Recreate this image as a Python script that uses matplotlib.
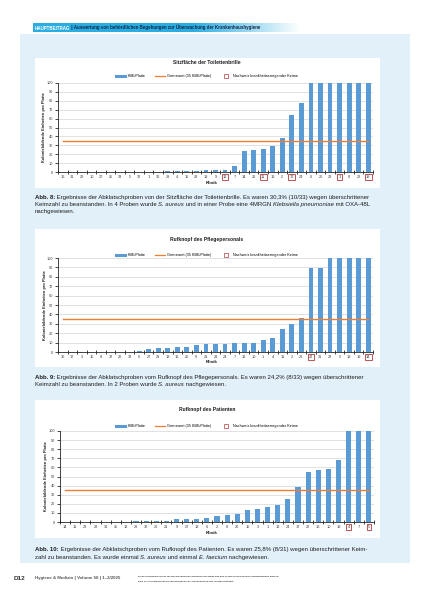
import matplotlib
matplotlib.use("Agg")
import matplotlib.pyplot as plt
import numpy as np
from matplotlib.patches import Rectangle
from matplotlib.lines import Line2D
from matplotlib.colors import to_rgb

plt.rcParams['font.family'] = ['Liberation Sans', 'DejaVu Sans']

# ---------------- data ----------------
threshold = 35

c1_title = "Sitzfläche der Toilettenbrille"
c1_labels = ["16", "31", "20", "10", "27", "25", "33", "5", "32", "1", "30", "29", "4", "15", "28", "18",
             "9", "12", "7", "14", "21", "11", "13", "2", "17", "24", "6", "26", "23", "3", "8", "22", "19"]
c1_values = [0, 0, 0, 0, 0, 0, 0, 0, 0, 0, 0, 1, 1, 1, 1, 2, 2.2, 2.2, 6.7, 24, 25, 26, 29.6, 38,
             64, 77, 100, 100, 100, 100, 100, 100, 100]
c1_pathogen = ["12", "11", "17", "3", "19"]

c2_title = "Rufknopf des Pflegepersonals"
c2_labels = ["30", "17", "3", "15", "8", "32", "20", "33", "6", "27", "23", "13", "16", "25", "9", "21",
             "28", "24", "7", "12", "10", "1", "4", "11", "2", "26", "22", "31", "29", "5", "18", "19", "14"]
c2_values = [0, 0, 0, 0, 0, 0, 0.5, 0.5, 0.6, 3.2, 4, 4, 5, 5, 7, 8, 8, 8, 10, 10, 10, 13, 15, 24,
             30, 36, 89, 89, 100, 100, 100, 100, 100]
c2_pathogen = ["22", "14"]

c3_title = "Rufknopf des Patienten"
c3_labels = ["14", "11", "23", "28", "31", "25", "12", "29", "30", "26", "21", "9", "27", "18", "6", "2",
             "8", "20", "15", "3", "1", "13", "24", "17", "22", "16", "10", "19", "4", "7", "5"]
c3_values = [0, 0, 0, 0, 0, 0, 0, 1.5, 1.5, 1.5, 1.5, 3.3, 3.3, 3.3, 4.4, 6.5, 7.7, 8.8, 12.9, 14.3,
             16.2, 18.8, 25, 38.6, 55, 57, 58.5, 68, 100, 100, 100]
c3_pathogen = ["4", "5"]

y_ticks = [0, 10, 20, 30, 40, 50, 60, 70, 80, 90, 100]
legend_labels = ["KBE/Platte", "Grenzwert (35 KBE/Platte)", "Nachweis krankheitserregender Keime"]
ylabel_text = "Koloniebildende Einheiten pro Platte"
xlabel_text = "Klinik"

# ---------------- figure ----------------
W, H = 425, 596
fig = plt.figure(figsize=(W / 100, H / 100), dpi=100)
fig.patch.set_facecolor("white")

BAR = "#5b9bd5"
ORANGE = "#ed7d31"
RED = "#b03a3a"
PANEL = "#e2f0fa"


def fr(x0, y0, x1, y1):
    return [x0 / W, 1 - y1 / H, (x1 - x0) / W, (y1 - y0) / H]


# background layer (pixel coordinates)
axb = fig.add_axes([0, 0, 1, 1], zorder=-10)
axb.set_xlim(0, W)
axb.set_ylim(H, 0)
axb.axis("off")
axb.add_patch(Rectangle((20, 34), 390, 529, facecolor=PANEL, edgecolor="none"))
for (x0, y0, x1, y1) in [(35, 58, 380, 188), (35, 229, 380, 367), (35, 400, 380, 538)]:
    axb.add_patch(Rectangle((x0, y0), x1 - x0, y1 - y0, facecolor="white", edgecolor="none"))

# header gradient bar
axh = fig.add_axes(fr(33, 23, 300, 32), zorder=-5)
t = np.linspace(0, 1, 256)
alpha = np.clip((t - 0.6) / 0.4, 0, 1)
c0 = np.array(to_rgb("#2aaee2"))
grad = c0[None, :] * (1 - alpha[:, None]) + np.ones(3)[None, :] * alpha[:, None]
axh.imshow(grad[None, :, :], aspect="auto", extent=[0, 1, 0, 1])
axh.axis("off")

# overlay layer for text (pixel coordinates)
axf = fig.add_axes([0, 0, 1, 1], zorder=10)
axf.set_xlim(0, W)
axf.set_ylim(H, 0)
axf.axis("off")
axf.patch.set_visible(False)


def seg_line(x, y, segs, fs, color="#1e1e1e"):
    prev = None
    for txt, style in segs:
        kw = dict(fontsize=fs, color=color if style != "w" else "white")
        if style in ("b", "w"):
            kw["fontweight"] = "bold"
        if style == "i":
            kw["fontstyle"] = "italic"
        if prev is None:
            prev = axf.text(x, y, txt, ha="left", va="bottom", **kw)
        else:
            prev = axf.annotate(txt, xy=(1, 0), xycoords=prev, ha="left", va="bottom", **kw)
    return prev


seg_line(35, 30.5, [("HAUPTBEITRAG", "w"),
                    (" | Auswertung von behördlichen Begehungen zur Überwachung der Krankenhaushygiene", "b")],
         3.25, color="#14284b")


def draw_chart(rect, labels, values, pathogen, title, title_y, legend_y, xlabel_y, ylabel_x):
    ax = fig.add_axes(fr(*rect), zorder=0)
    n = len(labels)
    x = np.arange(n)
    ax.set_facecolor("white")
    ax.bar(x, values, width=0.5, color=BAR, zorder=2)
    ax.plot(x, [threshold] * n, color=ORANGE, lw=1.0, zorder=3)
    ax.set_xlim(-0.5, n - 0.5)
    ax.set_ylim(0, 100)
    ax.set_yticks(y_ticks)
    ax.set_yticklabels([str(v) for v in y_ticks], fontsize=2.8, color="#404040")
    ax.set_xticks(x)
    ax.set_xticklabels(labels, fontsize=2.8, color="#404040")
    ax.set_xticks(np.arange(-0.5, n, 1), minor=True)
    ax.tick_params(axis="x", which="major", length=0, pad=2.2)
    ax.tick_params(axis="x", which="minor", length=2.6, width=0.5, direction="inout")
    ax.tick_params(axis="y", which="major", length=2, width=0.5, direction="out", pad=1.5)
    ax.grid(axis="y", color="#d4d4d4", lw=0.5, zorder=0)
    ax.set_axisbelow(True)
    for s in ["top", "right"]:
        ax.spines[s].set_visible(False)
    for s in ["left", "bottom"]:
        ax.spines[s].set_linewidth(0.6)
        ax.spines[s].set_color("#222222")
    for lbl, name in zip(ax.get_xticklabels(), labels):
        if name in pathogen:
            lbl.set_bbox(dict(facecolor="none", edgecolor=RED, linewidth=0.6, pad=0.9))
    x0, y0, x1, y1 = rect
    axf.text(207, title_y, title, ha="center", va="center", fontsize=3.6, fontweight="bold", color="#1e1e1e")
    axf.text(212, xlabel_y, xlabel_text, ha="center", va="center", fontsize=3.2, fontweight="bold",
             color="#1e1e1e")
    axf.text(ylabel_x, (y0 + y1) / 2, ylabel_text, ha="center", va="center", rotation=90, fontsize=2.9,
             fontweight="bold", color="#1e1e1e")
    handles = [Line2D([], [], color=BAR, lw=2.2),
               Line2D([], [], color=ORANGE, lw=0.9),
               Line2D([], [], ls="none", marker="s", markersize=2.8, markerfacecolor="white",
                      markeredgecolor=RED, markeredgewidth=0.5)]
    fig.legend(handles, legend_labels, loc="center", bbox_to_anchor=(207 / W, 1 - legend_y / H), ncol=3,
               frameon=False, fontsize=2.7, handlelength=2.6, columnspacing=2.6, handletextpad=0.6)
    return ax


draw_chart((58, 83, 373, 172), c1_labels, c1_values, c1_pathogen, c1_title, 63, 76, 183, 44)
draw_chart((58, 258, 373, 352), c2_labels, c2_values, c2_pathogen, c2_title, 240, 255, 362, 45)
draw_chart((60, 431, 374, 522), c3_labels, c3_values, c3_pathogen, c3_title, 410, 426, 533, 46)

CFS = 4.3
cap = [
    (200, [("Abb. 8:", "b"), (" Ergebnisse der Abklatschproben von der Sitzfläche der Toilettenbrille. "
                               "Es waren 30,3% (10/33) wegen überschrittener", "n")]),
    (207, [("Keimzahl zu beanstanden. In 4 Proben wurde ", "n"), ("S. aureus", "i"),
           (" und in einer Probe eine 4MRGN ", "n"), ("Klebsiella pneumoniae", "i"), (" mit OXA-48L", "n")]),
    (214, [("nachgewiesen.", "n")]),
    (380, [("Abb. 9:", "b"), (" Ergebnisse der Abklatschproben vom Rufknopf des Pflegepersonals. "
                               "Es waren 24,2% (8/33) wegen überschrittener", "n")]),
    (387, [("Keimzahl zu beanstanden. In 2 Proben wurde ", "n"), ("S. aureus", "i"), (" nachgewiesen.", "n")]),
    (552, [("Abb. 10:", "b"), (" Ergebnisse der Abklatschproben vom Rufknopf des Patienten. "
                                "Es waren 25,8% (8/31) wegen überschrittener Keim-", "n")]),
    (560, [("zahl zu beanstanden. Es wurde einmal ", "n"), ("S. aureus", "i"), (" und einmal ", "n"),
           ("E. faecium", "i"), (" nachgewiesen.", "n")]),
]
for y, segs in cap:
    seg_line(35, y, segs, CFS)

# footer
axf.text(14, 578, "D12", ha="left", va="center", fontsize=4.6, fontweight="bold", color="#333333")
axf.text(35, 578, "Hygiene & Medizin | Volume 50 | 1–2/2025", ha="left", va="center", fontsize=3.2,
         fontweight="bold", color="#555555")
axf.text(138, 576.5, "Dieses Dokument ist nur für den persönlichen Gebrauch bestimmt und darf in keiner Form an Dritte weitergegeben werden.",
         ha="left", va="center", fontsize=1.7, fontweight="bold", color="#333333")
axf.text(138, 581.5, "Eine Vervielfältigung ist nur mit ausdrücklicher Genehmigung des Verlags gestattet.",
         ha="left", va="center", fontsize=1.7, fontweight="bold", color="#333333")

fig.savefig("out.png", dpi=100)
